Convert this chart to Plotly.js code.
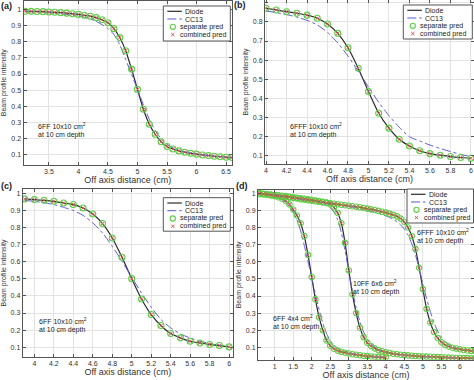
<!DOCTYPE html>
<html><head><meta charset="utf-8">
<script src="https://cdn.plot.ly/plotly-3.0.1.min.js"></script>
<style>html,body{margin:0;padding:0;background:#fff}#chart{width:474px;height:380px}</style>
</head><body><div id="chart"></div>
<script>
// ---------- Panel (a): 6FF 10x10 ----------
const xA = [3.1,3.2,3.3,3.4,3.5,3.6,3.7,3.8,3.9,4.0,4.1,4.2,4.3,4.4,4.5,4.6,4.7,4.8,4.9,5.0,5.1,5.2,5.3,5.4,5.5,5.6,5.7,5.8,5.9,6.0,6.1,6.2,6.3,6.4,6.5,6.6];
const diodeA = [0.988,0.987,0.986,0.985,0.983,0.981,0.979,0.976,0.972,0.968,0.963,0.957,0.948,0.935,0.917,0.88,0.825,0.744,0.63,0.505,0.382,0.29,0.228,0.182,0.152,0.137,0.125,0.117,0.11,0.105,0.1,0.096,0.092,0.089,0.086,0.084];
const cc13A = [0.985,0.984,0.982,0.98,0.978,0.975,0.972,0.968,0.963,0.958,0.95,0.94,0.925,0.905,0.88,0.845,0.78,0.69,0.597,0.505,0.41,0.32,0.25,0.2,0.166,0.144,0.129,0.119,0.112,0.106,0.101,0.097,0.093,0.09,0.087,0.085];

// ---------- Panel (b): 6FFF 10x10 ----------
const xB = [4.0,4.1,4.2,4.3,4.4,4.5,4.6,4.7,4.8,4.9,5.0,5.1,5.2,5.3,5.4,5.5,5.6,5.7,5.8,5.9,6.0];
const diodeB = [0.871,0.862,0.853,0.845,0.835,0.819,0.789,0.74,0.665,0.558,0.436,0.323,0.245,0.187,0.152,0.127,0.112,0.104,0.097,0.092,0.088];
const cc13B = [0.857,0.848,0.838,0.825,0.808,0.784,0.745,0.69,0.621,0.543,0.46,0.38,0.31,0.25,0.2,0.178,0.157,0.139,0.123,0.108,0.097];

// ---------- Panel (c): 6FF 10x10 ----------
const xC = [3.9,4.0,4.1,4.2,4.3,4.4,4.5,4.6,4.7,4.8,4.9,5.0,5.1,5.2,5.3,5.4,5.5,5.6,5.7,5.8,5.9,6.0];
const diodeC = [0.967,0.963,0.959,0.953,0.943,0.934,0.914,0.879,0.823,0.739,0.626,0.501,0.382,0.291,0.227,0.18,0.155,0.135,0.125,0.116,0.11,0.102];
const cc13C = [0.958,0.953,0.945,0.934,0.918,0.899,0.871,0.827,0.768,0.69,0.603,0.509,0.418,0.334,0.262,0.213,0.178,0.154,0.135,0.123,0.112,0.102];

// ---------- Panel (d): three fields ----------
const xD1 = [0.6,0.7,0.8,0.9,1.0,1.1,1.2,1.3,1.4,1.5,1.6,1.7,1.8,1.9,2.0,2.1,2.2,2.3,2.4,2.5,2.6,2.7,2.8,2.9,3.0,3.1,3.2,3.3,3.4,3.5,3.6,3.7,3.8,3.9,4.0];
const diodeD1 = [0.995,0.993,0.99,0.987,0.983,0.977,0.968,0.955,0.935,0.905,0.87,0.825,0.75,0.64,0.51,0.38,0.275,0.2,0.14,0.11,0.092,0.081,0.074,0.069,0.064,0.06,0.057,0.054,0.051,0.049,0.047,0.045,0.043,0.042,0.041];
const cc13D1 = [0.993,0.99,0.987,0.983,0.978,0.971,0.961,0.946,0.923,0.89,0.845,0.78,0.695,0.6,0.505,0.41,0.32,0.24,0.18,0.14,0.112,0.095,0.084,0.076,0.069,0.064,0.06,0.056,0.053,0.05,0.048,0.046,0.044,0.043,0.042];

const xD2 = [0.6,0.7,0.8,0.9,1.0,1.1,1.2,1.3,1.4,1.5,1.6,1.7,1.8,1.9,2.0,2.1,2.2,2.3,2.4,2.5,2.6,2.7,2.8,2.9,3.0,3.1,3.2,3.3,3.4,3.5,3.6,3.7,3.8,3.9,4.0,4.1,4.2,4.3,4.4,4.5,4.6,4.7,4.8,4.9,5.0,5.1,5.2,5.3,5.4,5.5,5.6,5.7,5.8,5.9,6.0,6.1,6.2,6.3,6.4];
const diodeD2 = [0.998,0.996,0.994,0.992,0.99,0.988,0.985,0.983,0.98,0.977,0.974,0.971,0.968,0.965,0.962,0.958,0.954,0.95,0.944,0.935,
  0.918,0.885,0.825,0.71,0.55,0.41,0.3,0.215,0.16,0.128,
  0.108,0.094,0.084,0.077,0.071,0.067,0.063,0.06,0.057,0.055,
  0.053,0.051,0.05,0.048,0.047,0.046,0.045,0.044,0.043,0.042,
  0.041,0.04,0.039,0.038,0.038,0.037,0.037,0.036,0.036];
const cc13D2 = [0.997,0.995,0.993,0.991,0.989,0.986,0.984,0.981,0.978,0.975,0.972,0.969,0.965,0.961,0.957,0.952,0.946,0.939,0.93,0.915,
  0.89,0.845,0.77,0.665,0.545,0.43,0.33,0.25,0.19,0.148,
  0.12,0.102,0.09,0.081,0.074,0.069,0.065,0.061,0.058,0.056,
  0.053,0.051,0.05,0.048,0.047,0.046,0.045,0.044,0.043,0.042,
  0.041,0.04,0.039,0.038,0.038,0.037,0.037,0.036,0.036];

const xD3 = xD2;
const diodeD3 = [1.0,0.997,0.994,0.991,0.988,0.985,0.982,0.979,0.976,0.973,
  0.97,0.966,0.963,0.96,0.957,0.954,0.95,0.947,0.945,0.942,
  0.939,0.936,0.933,0.93,0.927,0.924,0.921,0.918,0.914,0.91,
  0.906,0.902,0.897,0.892,0.887,0.881,0.874,0.865,0.852,0.832,
  0.8,0.75,0.675,0.565,0.44,0.325,0.245,0.19,0.155,0.13,
  0.115,0.105,0.098,0.093,0.089,0.085,0.082,0.08,0.078];
const cc13D3 = [0.998,0.996,0.993,0.99,0.987,0.984,0.981,0.978,0.975,0.971,
  0.968,0.964,0.961,0.958,0.955,0.951,0.948,0.944,0.941,0.938,
  0.935,0.932,0.929,0.925,0.922,0.918,0.914,0.91,0.905,0.9,
  0.895,0.889,0.883,0.876,0.868,0.859,0.848,0.834,0.815,0.79,
  0.755,0.705,0.64,0.56,0.47,0.385,0.31,0.245,0.195,0.16,
  0.134,0.117,0.106,0.098,0.092,0.087,0.083,0.08,0.078];

const legendNames = ['Diode','CC13','separate pred','combined pred'];
const xTitle = 'Off axis distance (cm)';
const yTitle = 'Beam profile intensity';

// ---------- styles ----------
const W = 474, H = 380;
const FONT = 'Liberation Sans, Arial, sans-serif';
const DIODE_C = '#2b2b2b', CC13_C = '#5a5ad8', SEP_C = '#5ccf45', COMB_C = '#e05050';

const traces = [];
function addSet(x, diode, cc13, xa, ya, msize) {
  traces.push({x:x, y:diode, xaxis:xa, yaxis:ya, mode:'lines', line:{color:DIODE_C, width:1.2, shape:'spline', smoothing:0.6}, showlegend:false, hoverinfo:'skip'});
  traces.push({x:x, y:cc13, xaxis:xa, yaxis:ya, mode:'lines', line:{color:CC13_C, width:1, dash:'dashdot', shape:'spline', smoothing:0.6}, showlegend:false, hoverinfo:'skip'});
  traces.push({x:x, y:diode, xaxis:xa, yaxis:ya, mode:'markers', marker:{symbol:'circle-open', size:msize, color:SEP_C, line:{width:1.1}}, showlegend:false, hoverinfo:'skip'});
  traces.push({x:x, y:diode, xaxis:xa, yaxis:ya, mode:'markers', marker:{symbol:'x-thin-open', size:msize-2.5, color:COMB_C, line:{width:0.9, color:COMB_C}}, showlegend:false, hoverinfo:'skip'});
}
addSet(xA, diodeA, cc13A, 'x', 'y', 6);
addSet(xB, diodeB, cc13B, 'x2', 'y2', 6);
addSet(xC, diodeC, cc13C, 'x3', 'y3', 6);
addSet(xD1, diodeD1, cc13D1, 'x4', 'y4', 5.5);
addSet(xD2, diodeD2, cc13D2, 'x4', 'y4', 5.5);
addSet(xD3, diodeD3, cc13D3, 'x4', 'y4', 5.5);

function xax(domain, range, tickvals, anchor) {
  return {domain:domain, range:range, anchor:anchor, tickvals:tickvals, ticktext:tickvals.map(String),
    ticks:'inside', ticklen:3, tickcolor:'#555', showline:true, linecolor:'#555', linewidth:1, mirror:'ticks',
    showgrid:true, gridcolor:'#e3e3e3', gridwidth:1, zeroline:false, automargin:false,
    tickfont:{family:FONT, size:7, color:'#333'},
    title:{text:xTitle, font:{family:FONT, size:9, color:'#333'}, standoff:1}};
}
function yax(domain, range, tickvals, anchor) {
  return {domain:domain, range:range, anchor:anchor, tickvals:tickvals, ticktext:tickvals.map(String),
    ticks:'inside', ticklen:3, tickcolor:'#555', showline:true, linecolor:'#555', linewidth:1, mirror:'ticks',
    showgrid:true, gridcolor:'#e3e3e3', gridwidth:1, zeroline:false, automargin:false,
    tickfont:{family:FONT, size:7, color:'#333'},
    title:{text:yTitle, font:{family:FONT, size:7, color:'#333'}, standoff:3}};
}
const yT10 = [0.1,0.2,0.3,0.4,0.5,0.6,0.7,0.8,0.9,1];
const yT9 = [0.1,0.2,0.3,0.4,0.5,0.6,0.7,0.8,0.9];
const px = v => v / W, py = v => 1 - v / H;

const layout = {
  width:W, height:H, margin:{l:0,r:0,t:0,b:0}, paper_bgcolor:'#fff', plot_bgcolor:'#fff',
  showlegend:false, font:{family:FONT, color:'#333'},
  xaxis: xax([px(23.5), px(232)], [3.07, 6.6], [3.5,4,4.5,5,5.5,6,6.5], 'y'),
  yaxis: yax([py(165), py(0.5)], [0.038, 1.054], yT10, 'x'),
  xaxis2: xax([px(265), 1], [3.99, 6.03], [4,4.2,4.4,4.6,4.8,5,5.2,5.4,5.6,5.8,6], 'y2'),
  yaxis2: yax([py(164), 1], [0.058, 0.914], yT9, 'x2'),
  xaxis3: xax([px(22.7), px(233)], [3.88, 6.04], [4,4.2,4.4,4.6,4.8,5,5.2,5.4,5.6,5.8,6], 'y3'),
  yaxis3: yax([py(357), py(189)], [0.043, 1.025], yT10, 'x3'),
  xaxis4: xax([px(258), 1], [0.55, 6.38], [1,1.5,2,2.5,3,3.5,4,4.5,5,5.5,6], 'y4'),
  yaxis4: yax([py(359.7), py(190)], [0.028, 1.019], yT10, 'x4'),
  shapes: [], annotations: []
};

// panel labels
[['(a)',6.7,6.3],['(b)',239.7,5.5],['(c)',6.7,186],['(d)',241.5,186]].forEach(p => {
  layout.annotations.push({text:'<b>'+p[0]+'</b>', xref:'paper', yref:'paper', x:px(p[1]), y:py(p[2]), xanchor:'center', yanchor:'middle', showarrow:false, font:{family:FONT, size:9, color:'#222'}});
});

// notes: two single-line annotations each (line gap ~9 px)
function note(line1, line2, xr, yr, x, y, ax) {
  const span = layout[ax].range[1] - layout[ax].range[0];
  const hpx = (layout[ax].domain[1] - layout[ax].domain[0]) * H;
  const dy = 4.5 * span / hpx;
  layout.annotations.push({text:line1, xref:xr, yref:yr, x:x, y:y + dy, xanchor:'left', yanchor:'middle', showarrow:false, font:{family:FONT, size:7, color:'#222'}});
  layout.annotations.push({text:line2, xref:xr, yref:yr, x:x, y:y - dy, xanchor:'left', yanchor:'middle', showarrow:false, font:{family:FONT, size:7, color:'#222'}});
}
note('6FF 10x10 cm<sup>2</sup>', 'at 10 cm depth', 'x', 'y', 3.29, 0.248, 'yaxis');
note('6FFF 10x10 cm<sup>2</sup>', 'at 10 cm depth', 'x2', 'y2', 4.215, 0.231, 'yaxis2');
note('6FF 10x10 cm<sup>2</sup>', 'at 10 cm depth', 'x3', 'y3', 4.03, 0.23, 'yaxis3');
note('6FF 4x4 cm<sup>2</sup>', 'at 10 cm depth', 'x4', 'y4', 0.89, 0.244, 'yaxis4');
note('10FF 6x6 cm<sup>2</sup>', 'at 10 cm depth', 'x4', 'y4', 3.07, 0.448, 'yaxis4');
note('6FFF 10x10 cm<sup>2</sup>', 'at 10 cm depth', 'x4', 'y4', 4.80, 0.745, 'yaxis4');

// manual legends (MATLAB style compact box)
function legendBox(L, T, w, h) {
  const S = layout.shapes, A = layout.annotations;
  S.push({type:'rect', xref:'paper', yref:'paper', x0:px(L), x1:px(L+w), y0:py(T+h), y1:py(T), line:{color:'#555', width:1}, fillcolor:'#fff', layer:'above'});
  const rows = [T+5.3, T+13, T+20.8, T+28.6];
  S.push({type:'line', xref:'paper', yref:'paper', x0:px(L+4), x1:px(L+18.5), y0:py(rows[0]), y1:py(rows[0]), line:{color:DIODE_C, width:1.2}, layer:'above'});
  S.push({type:'line', xref:'paper', yref:'paper', x0:px(L+4), x1:px(L+18.5), y0:py(rows[1]), y1:py(rows[1]), line:{color:CC13_C, width:1, dash:'dashdot'}, layer:'above'});
  S.push({type:'circle', xref:'paper', yref:'paper', xsizemode:'pixel', ysizemode:'pixel', xanchor:px(L+9.5), yanchor:py(rows[2]), x0:-2.6, x1:2.6, y0:-2.6, y1:2.6, line:{color:SEP_C, width:1.1}, layer:'above'});
  S.push({type:'line', xref:'paper', yref:'paper', xsizemode:'pixel', ysizemode:'pixel', xanchor:px(L+9.5), yanchor:py(rows[3]), x0:-1.6, x1:1.6, y0:-1.6, y1:1.6, line:{color:COMB_C, width:1}, layer:'above'});
  S.push({type:'line', xref:'paper', yref:'paper', xsizemode:'pixel', ysizemode:'pixel', xanchor:px(L+9.5), yanchor:py(rows[3]), x0:-1.6, x1:1.6, y0:1.6, y1:-1.6, line:{color:COMB_C, width:1}, layer:'above'});
  const tx = [L+19.5, L+19.5, L+15, L+15];
  legendNames.forEach((n, i) => {
    A.push({text:n, xref:'paper', yref:'paper', x:px(tx[i]), y:py(rows[i]), xanchor:'left', yanchor:'middle', showarrow:false, font:{family:FONT, size:7, color:'#222'}});
  });
}
legendBox(163.3, 6, 67, 35);
legendBox(403.3, 5, 69, 34);
legendBox(163.3, 197.7, 67, 33.5);
legendBox(407, 189, 66.5, 34);

Plotly.newPlot('chart', traces, layout, {staticPlot:true, displayModeBar:false}).then(() => {
  // drop Plotly's invisible measuring placeholders (zero-size texts); nothing visible changes
  document.querySelectorAll('#chart svg text').forEach(t => {
    const b = t.getBBox();
    if (!(b.width > 0 && b.height > 0)) t.remove();
  });
});
</script>
</body></html>
